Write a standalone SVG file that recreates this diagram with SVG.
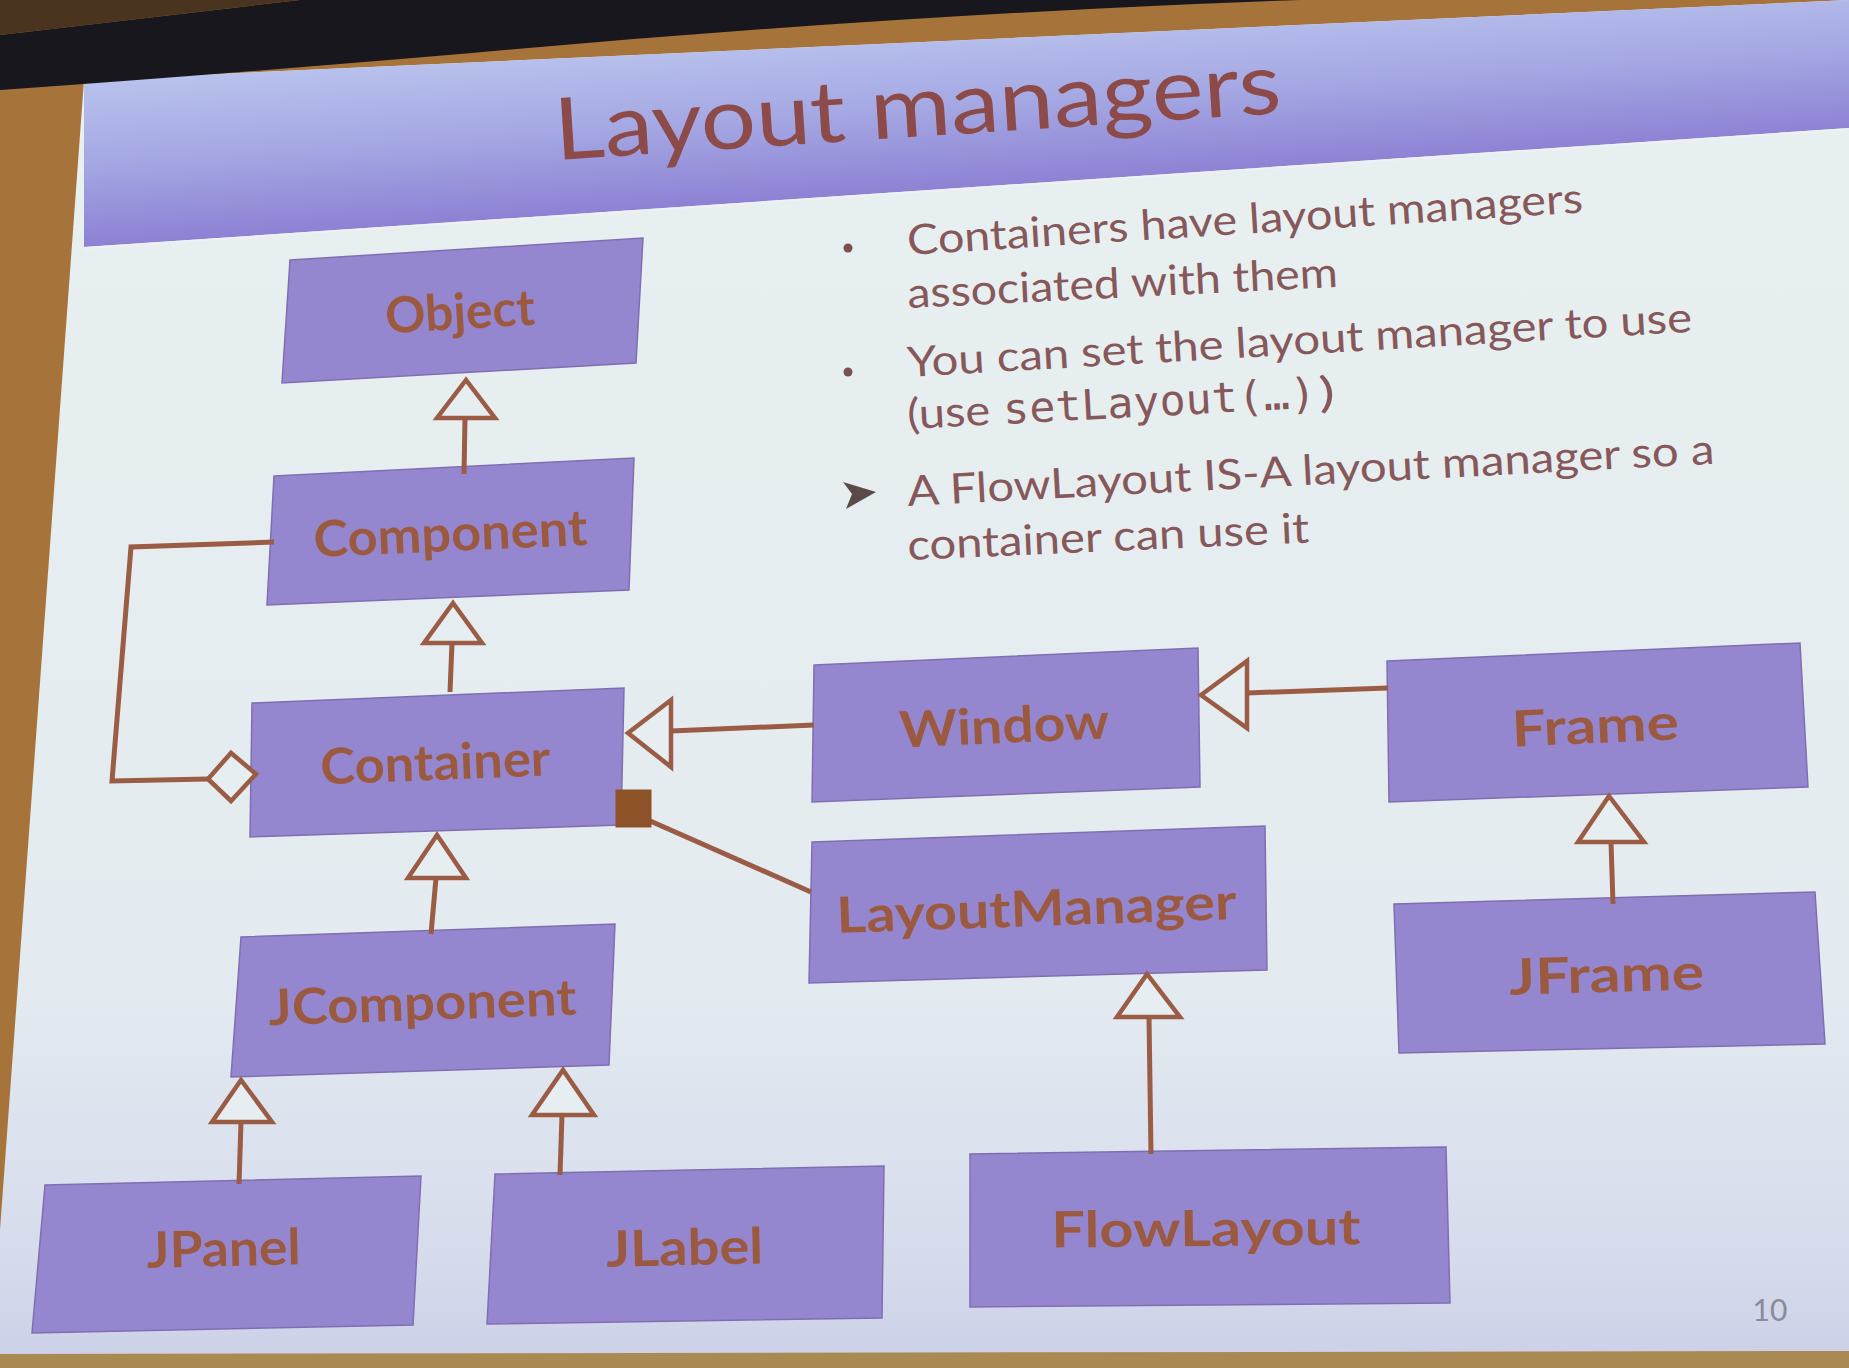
<svg xmlns="http://www.w3.org/2000/svg" width="1849" height="1368" viewBox="0 0 1849 1368">
<defs>
<linearGradient id="hdr" gradientUnits="userSpaceOnUse" x1="956" y1="20" x2="967" y2="190">
<stop offset="0" stop-color="#bac4ee"/>
<stop offset="0.5" stop-color="#a5a8e3"/>
<stop offset="1" stop-color="#8c81d4"/>
</linearGradient>
<linearGradient id="body" x1="0" y1="0" x2="0" y2="1">
<stop offset="0" stop-color="#e8f0f0"/>
<stop offset="0.72" stop-color="#e4ebf0"/>
<stop offset="0.92" stop-color="#d7dcec"/>
<stop offset="1" stop-color="#cdd1e8"/>
</linearGradient>
<style>
.node polygon { fill: #9587cf; stroke: #7f6fb2; stroke-width: 1.5; }
.lbl { font-family: Lato, "Open Sans", sans-serif; font-weight: 700; font-size: 50px; fill: #9b5a40; text-anchor: middle; }
.bul { font-family: Lato, "Open Sans", sans-serif; font-size: 42px; fill: #86585a; }
.mono { font-family: "DejaVu Sans Mono", "Liberation Mono", monospace; font-size: 42px; fill: #86585a; }
.title { font-family: Lato, "Open Sans", sans-serif; font-size: 86px; fill: #8c4a48; }
.conn line, .conn path { fill: none; stroke: #9a5c44; stroke-width: 5; }
.conn .hollow { fill: #e6eef1; stroke: #9a5c44; stroke-width: 4.5; stroke-linejoin: miter; }
.conn .solid { fill: #8e5228; stroke: #8e5228; stroke-width: 1; }
</style>
</defs>

<!-- backdrop -->
<rect x="0" y="0" width="1849" height="1368" fill="#a6733a"/>
<polygon points="0,1350 1849,1347 1849,1368 0,1368" fill="#a98a52"/>
<polygon points="84,80 1849,0 1849,1351 0,1354 0,1230" fill="url(#body)"/>
<polygon points="84,80 1849,0 1849,128 84,247" fill="url(#hdr)"/>
<line x1="84" y1="248" x2="1849" y2="129" stroke="#eef2f7" stroke-width="2"/>
<path d="M0,35 L300,0 L1300,0 Q900,14 472,53 Q200,76 0,90 Z" fill="#18171d"/>
<polygon points="0,0 300,0 0,35" fill="#4a3420"/>

<!-- title -->
<text class="title" x="556" y="160" transform="rotate(-3.7 556 160)" textLength="728" lengthAdjust="spacingAndGlyphs">Layout managers</text>

<!-- bullets -->
<g id="bullets">
<circle cx="848" cy="248" r="4.5" fill="#7a5050"/>
<circle cx="848" cy="372" r="4.5" fill="#7a5050"/>
<path d="M843,482 L876,492 L846,509 L852,494 Z" fill="#5a4a4a"/>
<text class="bul" x="908" y="255" transform="rotate(-3.6 908 255)" textLength="677" lengthAdjust="spacingAndGlyphs">Containers have layout managers</text>
<text class="bul" x="908" y="308" transform="rotate(-2.8 908 308)" textLength="431" lengthAdjust="spacingAndGlyphs">associated with them</text>
<text class="bul" x="908" y="377" transform="rotate(-3.3 908 377)" textLength="786" lengthAdjust="spacingAndGlyphs">You can set the layout manager to use</text>
<g transform="translate(908,429) rotate(-3.0)">
<text class="bul" x="0" y="0" textLength="83" lengthAdjust="spacingAndGlyphs">(use</text>
<text class="mono" x="96" y="0" textLength="313" lengthAdjust="spacingAndGlyphs">setLayout(…)</text>
<text class="bul" x="412" y="0" textLength="16" lengthAdjust="spacingAndGlyphs">)</text>
</g>
<text class="bul" x="908" y="506" transform="rotate(-3.0 908 506)" textLength="808" lengthAdjust="spacingAndGlyphs">A FlowLayout IS-A layout manager so a</text>
<text class="bul" x="908" y="560" transform="rotate(-2.5 908 560)" textLength="402" lengthAdjust="spacingAndGlyphs">container can use it</text>
</g>

<!-- nodes -->
<g id="node-object" class="node">
<polygon points="290,260 643,238 636,363 282,383"/>
<text class="lbl" x="461" y="329" transform="rotate(-3.4 461 329)" textLength="150" lengthAdjust="spacingAndGlyphs">Object</text>
</g>
<g id="node-component" class="node">
<polygon points="274,476 634,458 629,590 267,605"/>
<text class="lbl" x="451" y="551" transform="rotate(-2.5 451 551)" textLength="274" lengthAdjust="spacingAndGlyphs">Component</text>
</g>
<g id="node-container" class="node">
<polygon points="252,703 624,688 621,825 250,837"/>
<text class="lbl" x="436" y="780" transform="rotate(-2.3 436 780)" textLength="230" lengthAdjust="spacingAndGlyphs">Container</text>
</g>
<g id="node-window" class="node">
<polygon points="814,665 1198,648 1200,787 812,802"/>
<text class="lbl" x="1005" y="743" transform="rotate(-2.5 1005 743)" textLength="210" lengthAdjust="spacingAndGlyphs">Window</text>
</g>
<g id="node-frame" class="node">
<polygon points="1387,661 1800,643 1808,787 1389,802"/>
<text class="lbl" x="1596" y="743" transform="rotate(-2.5 1596 743)" textLength="167" lengthAdjust="spacingAndGlyphs">Frame</text>
</g>
<g id="node-layoutmanager" class="node">
<polygon points="812,842 1265,826 1267,970 809,983"/>
<text class="lbl" x="1037" y="926" transform="rotate(-2.0 1037 926)" textLength="400" lengthAdjust="spacingAndGlyphs">LayoutManager</text>
</g>
<g id="node-jframe" class="node">
<polygon points="1394,904 1815,892 1825,1044 1399,1053"/>
<text class="lbl" x="1607" y="992" transform="rotate(-1.6 1607 992)" textLength="195" lengthAdjust="spacingAndGlyphs">JFrame</text>
</g>
<g id="node-jcomponent" class="node">
<polygon points="241,937 615,924 609,1065 231,1077"/>
<text class="lbl" x="423" y="1020" transform="rotate(-2.0 423 1020)" textLength="308" lengthAdjust="spacingAndGlyphs">JComponent</text>
</g>
<g id="node-jpanel" class="node">
<polygon points="45,1185 421,1176 413,1325 32,1333"/>
<text class="lbl" x="224" y="1266" transform="rotate(-1.3 224 1266)" textLength="154" lengthAdjust="spacingAndGlyphs">JPanel</text>
</g>
<g id="node-jlabel" class="node">
<polygon points="495,1174 884,1166 882,1318 487,1324"/>
<text class="lbl" x="685" y="1265" transform="rotate(-1.2 685 1265)" textLength="157" lengthAdjust="spacingAndGlyphs">JLabel</text>
</g>
<g id="node-flowlayout" class="node">
<polygon points="970,1154 1446,1147 1450,1303 970,1307"/>
<text class="lbl" x="1206" y="1246" transform="rotate(-0.6 1206 1246)" textLength="309" lengthAdjust="spacingAndGlyphs">FlowLayout</text>
</g>

<!-- connectors -->
<g id="connectors" class="conn">
<line x1="464" y1="474" x2="465" y2="418"/>
<polygon class="hollow" points="466,380 437,418 495,418"/>
<line x1="450" y1="692" x2="452" y2="643"/>
<polygon class="hollow" points="453,603 424,643 482,643"/>
<line x1="431" y1="934" x2="436" y2="878"/>
<polygon class="hollow" points="437,835 408,878 466,878"/>
<line x1="239" y1="1184" x2="241" y2="1122"/>
<polygon class="hollow" points="241,1080 212,1122 272,1122"/>
<line x1="560" y1="1175" x2="562" y2="1115"/>
<polygon class="hollow" points="563,1070 532,1115 594,1115"/>
<line x1="814" y1="725" x2="671" y2="731"/>
<polygon class="hollow" points="628,733 671,700 671,767"/>
<line x1="1388" y1="688" x2="1247" y2="693"/>
<polygon class="hollow" points="1201,695 1247,661 1247,728"/>
<line x1="1613" y1="904" x2="1611" y2="842"/>
<polygon class="hollow" points="1609,796 1578,842 1644,842"/>
<line x1="1151" y1="1154" x2="1149" y2="1017"/>
<polygon class="hollow" points="1147,974 1117,1017 1180,1017"/>
<line x1="648" y1="820" x2="811" y2="892"/>
<rect class="solid" x="616" y="790" width="35" height="37"/>
<path d="M274,542 L131,547 L112,781 L208,779"/>
<polygon class="hollow" points="208,779 231,753 256,774 231,801"/>
</g>

<text x="1770" y="1321" font-family="Lato, 'Open Sans', sans-serif" font-size="30" fill="#8a8a9a" text-anchor="middle">10</text>
</svg>
